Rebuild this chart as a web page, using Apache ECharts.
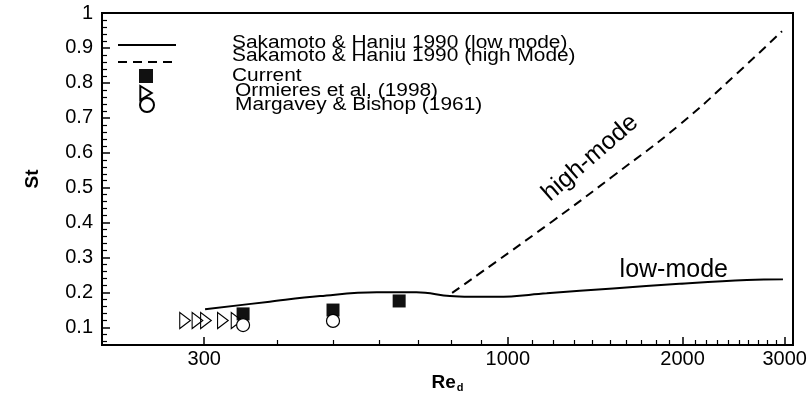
<!DOCTYPE html>
<html>
<head>
<meta charset="utf-8">
<script src="https://cdn.jsdelivr.net/npm/echarts@6/dist/echarts.min.js"></script>
<style>
  html, body { margin: 0; padding: 0; background: #fff; }
  #chart1 { width: 812px; height: 398px; }
</style>
</head>
<body>
<div id="chart1"></div>
<script>
// data
var lowModeRe = [301, 389, 475, 595, 696, 795, 861, 957, 1167, 1518, 1976, 2583, 2979];
var lowModeSt = [0.152, 0.174, 0.190, 0.201, 0.201, 0.190, 0.188, 0.188, 0.198, 0.212, 0.225, 0.236, 0.238];
var highModeRe = [802, 1196, 1517, 1976, 2493, 2968];
var highModeSt = [0.199, 0.405, 0.533, 0.680, 0.830, 0.948];
var currentRe = [350, 500, 650];
var currentSt = [0.139, 0.150, 0.176];
var ormieresRe = [278, 292, 302, 323, 341];
var ormieresSt = [0.12, 0.12, 0.12, 0.12, 0.12];
var margaveyRe = [350, 500];
var margaveySt = [0.107, 0.119];

var names = [
    'Sakamoto & Haniu 1990 (low mode)',
    'Sakamoto & Haniu 1990 (high Mode)',
    'Current',
    'Ormieres et al, (1998)',
    'Margavey & Bishop (1961)'
];

// ticks
var xLabels = [300, 1000, 2000, 3000];
var xMinorTicks = [400, 500, 600, 700, 800, 900, 1100, 1200, 1300, 1400, 1500, 1600, 1700, 1800, 1900,
    2100, 2200, 2300, 2400, 2500, 2600, 2700, 2800, 2900];
var yLabels = [0.1, 0.2, 0.3, 0.4, 0.5, 0.6, 0.7, 0.8, 0.9, 1];
var yMinorTicks = [0.06, 0.08, 0.12, 0.14, 0.16, 0.18, 0.22, 0.24, 0.26, 0.28, 0.32, 0.34, 0.36, 0.38,
    0.42, 0.44, 0.46, 0.48, 0.52, 0.54, 0.56, 0.58, 0.62, 0.64, 0.66, 0.68, 0.72, 0.74, 0.76, 0.78,
    0.82, 0.84, 0.86, 0.88, 0.92, 0.94, 0.96, 0.98];

// in-plot labels (anchored in data space)
var notes = [
    { text: 'high-mode', re: 1386, st: 0.585, angle: 41 },
    { text: 'low-mode', re: 1932, st: 0.265, angle: 0 }
];

function pairs(xs, ys) {
    return xs.map(function (x, i) { return [x, ys[i]]; });
}

var font = 'Liberation Sans, Arial, Helvetica, sans-serif';
var chart1 = echarts.init(document.getElementById('chart1'));

// legend: icons from echarts, the captions sit a bit apart as in the original
var legendIconLeft = [117, 117, 139, 139, 139];
var legendIconWidth = [58, 58, 14, 14, 14];
var legendIconTop = [38, 55, 69, 85, 97];
var legendTextX = [232, 232, 232, 235, 235];
var legendTextY = [43, 56, 76.5, 91.5, 105];

var legends = names.map(function (n, i) {
    var l = {
        data: [n],
        left: legendIconLeft[i],
        top: legendIconTop[i],
        padding: 0,
        itemWidth: legendIconWidth[i],
        itemHeight: 14,
        selectedMode: false,
        formatter: function () { return ''; },
        textStyle: { fontSize: 1 }
    };
    if (i < 2) l.itemStyle = { opacity: 0 };
    return l;
});

var xBase = { type: 'log', logBase: 10, min: 200, max: 3100, gridIndex: 0, position: 'bottom', splitLine: { show: false } };
var yBase = { type: 'value', min: 0.05, max: 1, gridIndex: 0, position: 'left', splitLine: { show: false } };

var option = {
    animation: false,
    backgroundColor: '#fff',
    grid: {
        left: 102, right: 19, top: 13, bottom: 53,
        show: true, borderColor: '#000', borderWidth: 2,
        outerBoundsMode: 'none'
    },
    legend: legends,
    xAxis: [
        Object.assign({}, xBase, {
            name: '{a|Re}{b|d}',
            nameLocation: 'middle',
            nameGap: 27,
            nameMoveOverlap: false,
            nameTextStyle: {
                rich: {
                    a: { fontFamily: font, fontSize: 19, fontWeight: 'bold', color: '#000' },
                    b: { fontFamily: font, fontSize: 11, fontWeight: 'bold', color: '#000', padding: [10, 0, 0, 1] }
                }
            },
            axisLine: { show: true, lineStyle: { color: '#000', width: 2 } },
            axisTick: { show: true, inside: true, length: 8, lineStyle: { color: '#000', width: 1.5 }, customValues: xLabels },
            axisLabel: {
                show: true, margin: 4, fontFamily: font, fontSize: 20, color: '#000', customValues: xLabels,
                formatter: function (v) { return String(v); }
            }
        }),
        Object.assign({}, xBase, {
            axisLine: { show: false },
            axisTick: { show: true, inside: true, length: 5, lineStyle: { color: '#000', width: 1.2 }, customValues: xMinorTicks },
            axisLabel: { show: false }
        })
    ],
    yAxis: [
        Object.assign({}, yBase, {
            name: 'St',
            nameLocation: 'middle',
            nameGap: 60,
            nameRotate: 90,
            nameMoveOverlap: false,
            nameTextStyle: { fontFamily: font, fontSize: 19, fontWeight: 'bold', color: '#000' },
            axisLine: { show: true, lineStyle: { color: '#000', width: 2 } },
            axisTick: { show: true, inside: true, length: 8, lineStyle: { color: '#000', width: 1.5 }, customValues: yLabels },
            axisLabel: { show: true, margin: 9, fontFamily: font, fontSize: 20, color: '#000', customValues: yLabels }
        }),
        Object.assign({}, yBase, {
            axisLine: { show: false },
            axisTick: { show: true, inside: true, length: 5, lineStyle: { color: '#000', width: 1.2 }, customValues: yMinorTicks },
            axisLabel: { show: false }
        })
    ],
    series: [
        {
            name: names[0], type: 'line', data: pairs(lowModeRe, lowModeSt),
            symbol: 'none', smooth: 0.4, color: '#000',
            lineStyle: { color: '#000', width: 2 }
        },
        {
            name: names[1], type: 'line', data: pairs(highModeRe, highModeSt),
            symbol: 'none', smooth: 0.5, color: '#000',
            lineStyle: { color: '#000', width: 2, type: [9, 6] }
        },
        {
            name: names[2], type: 'scatter', data: pairs(currentRe, currentSt),
            symbol: 'rect', symbolSize: 13,
            itemStyle: { color: '#111', opacity: 1 }
        },
        {
            name: names[3], type: 'scatter', data: pairs(ormieresRe, ormieresSt),
            symbol: 'path://M0,0L13,8L0,16Z', symbolSize: [13, 16], symbolKeepAspect: true,
            itemStyle: { color: 'rgba(255,255,255,0)', borderColor: '#000', borderWidth: 1.2, opacity: 1 }
        },
        {
            name: names[4], type: 'scatter', data: pairs(margaveyRe, margaveySt),
            symbol: 'circle', symbolSize: 13,
            itemStyle: { color: '#fff', borderColor: '#000', borderWidth: 1.2, opacity: 1 }
        }
    ]
};

chart1.setOption(option);

// the original legend type is a little stretched sideways
var captions = names.map(function (n, i) {
    return {
        type: 'text', x: legendTextX[i], y: legendTextY[i], scaleX: 1.16,
        style: { text: n, fontFamily: font, fontSize: 18, fill: '#000', align: 'left', verticalAlign: 'middle' }
    };
});

// put the in-plot labels where the data coordinates land
var noteTexts = notes.map(function (n) {
    var p = chart1.convertToPixel({ xAxisIndex: 0, yAxisIndex: 0 }, [n.re, n.st]);
    return {
        type: 'text', x: p[0], y: p[1], rotation: n.angle * Math.PI / 180,
        style: { text: n.text, fontFamily: font, fontSize: 25, fill: '#000', align: 'center', verticalAlign: 'middle' }
    };
});

chart1.setOption({ graphic: captions.concat(noteTexts) });
</script>
</body>
</html>
